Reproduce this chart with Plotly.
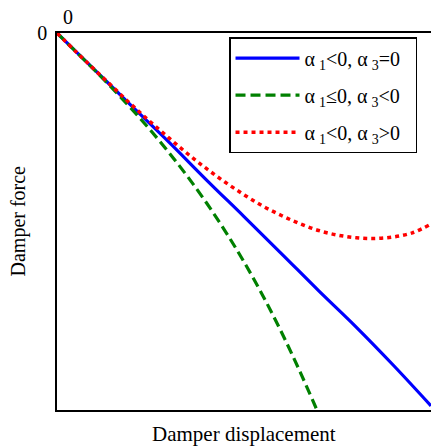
import plotly.graph_objects as go

# Normalized displacement (0..1) and force (0..-1)
disp_blue = [0.0, 0.1, 0.2, 0.3, 0.4, 0.5, 0.6, 0.7, 0.8, 0.9, 1.0]
force_blue = [0.0, -0.097, -0.194, -0.290, -0.390, -0.487, -0.585, -0.684, -0.780, -0.882, -0.989]

disp_green = [0.0, 0.05, 0.1, 0.15, 0.2, 0.25, 0.3, 0.35, 0.4, 0.45, 0.5, 0.55, 0.6, 0.65, 0.695]
force_green = [0.0, -0.049, -0.098, -0.149, -0.202, -0.258, -0.318, -0.382, -0.451, -0.526, -0.607, -0.696, -0.793, -0.899, -1.0]

disp_red = [0.0, 0.05, 0.1, 0.15, 0.2, 0.25, 0.3, 0.35, 0.4, 0.45, 0.5, 0.55, 0.6, 0.65, 0.7, 0.75, 0.8, 0.85, 0.9, 0.95, 1.0]
force_red = [0.0, -0.049, -0.097, -0.144, -0.191, -0.236, -0.279, -0.321, -0.360, -0.396, -0.429, -0.459, -0.484, -0.506, -0.524, -0.536, -0.543, -0.545, -0.541, -0.530, -0.507]

T = "\u2009"
E = "\u2002"
names = [f"α{T}<sub>1</sub>&lt;0, α{T}<sub>3</sub>=0{E}",
         f"α{T}<sub>1</sub>≤0, α{T}<sub>3</sub>&lt;0{E}",
         f"α{T}<sub>1</sub>&lt;0, α{T}<sub>3</sub>&gt;0{E}"]

FONT = "Liberation Serif"

fig = go.Figure()
fig.add_trace(go.Scatter(x=disp_blue, y=force_blue, mode="lines", name=names[0], legendgroup="a",
                         line=dict(color="#0000ff", width=3.2, shape="spline")))
fig.add_trace(go.Scatter(x=disp_green, y=force_green, mode="lines", name=names[1], legendgroup="b",
                         line=dict(color="#008000", width=3.2, dash="10px,5px", shape="spline")))
fig.add_trace(go.Scatter(x=disp_red, y=force_red, mode="lines", name=names[2], legendgroup="c",
                         line=dict(color="#ff0000", width=3.5, dash="4px,4px", shape="spline")))

fig.update_layout(
    width=431, height=446,
    margin=dict(l=57, r=0, t=33, b=36),
    paper_bgcolor="white", plot_bgcolor="white",
    font=dict(family=FONT, color="black", size=19),
    showlegend=True,
    legend=dict(x=0.9626, y=0.989, xanchor="right", yanchor="top",
                bgcolor="white", bordercolor="black", borderwidth=1.5,
                font=dict(family=FONT, size=20, color="black"),
                itemwidth=64, tracegroupgap=8),
    xaxis=dict(range=[0, 1], showgrid=False, zeroline=False, showline=True,
               linecolor="black", linewidth=1.5, mirror=True,
               showticklabels=False, ticks=""),
    yaxis=dict(range=[-1, 0], showgrid=False, zeroline=False, showline=True,
               linecolor="black", linewidth=1.5, mirror=False,
               tickvals=[0], ticktext=["0"], ticks="", ticklabelstandoff=4,
               tickfont=dict(family=FONT, size=20)),
    annotations=[
        dict(text="0", x=0.03, y=1.0, xref="paper", yref="paper",
             xanchor="center", yanchor="bottom", yshift=3, showarrow=False,
             font=dict(family=FONT, size=20)),
        dict(text="Damper displacement", x=0.5, y=0, xref="paper", yref="paper",
             xanchor="center", yanchor="top", yshift=-10, showarrow=False,
             font=dict(family=FONT, size=21)),
        dict(text="Damper force", x=0, y=0.5, xref="paper", yref="paper",
             xanchor="center", yanchor="middle", xshift=-39, textangle=-90,
             showarrow=False, font=dict(family=FONT, size=20)),
    ],
)

fig.write_html("out.html")
